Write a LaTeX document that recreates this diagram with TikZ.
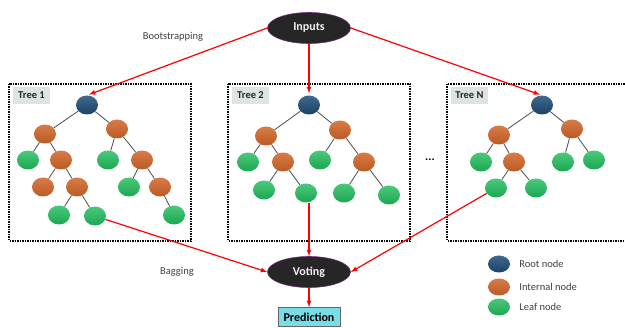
\documentclass[tikz,border=0pt]{standalone}
\usepackage{fontspec}
\setmainfont{Carlito}
\usepackage{tikz}
\usetikzlibrary{shapes, positioning}
\definecolor{rootblue}{RGB}{31, 78, 121}
\definecolor{inorange}{RGB}{208, 100, 40}
\definecolor{leafgreen}{RGB}{30, 186, 90}
\definecolor{labgray}{RGB}{222, 228, 224}
\definecolor{predcyan}{RGB}{121, 221, 230}
\definecolor{rimviolet}{RGB}{112, 48, 120}
\tikzset{
    treenode/.style = {draw=none, ellipse, minimum width=22pt, minimum height=19pt, inner sep=0pt, node distance=0pt},
    rootnode/.style = {treenode, top color=rootblue!85!white, bottom color=rootblue!85!black},
    innode/.style = {treenode, top color=inorange!85!white, bottom color=inorange!90!black},
    leafnode/.style = {treenode, top color=leafgreen!80!white, bottom color=leafgreen!90!black},
    bignode/.style = {draw=rimviolet, line width=0.6pt, ellipse, fill=black!85, minimum width=83pt,
      minimum height=31pt, inner sep=0pt, text=white!95!black, font=\fontsize{12}{14}\selectfont\bfseries},
    boxnode/.style = {draw=black!60, line width=0.8pt, rectangle, fill=predcyan, minimum width=62pt,
      minimum height=19pt, inner sep=0pt, font=\fontsize{12}{14}\selectfont\bfseries},
    textnode/.style = {draw=none, fill=none, rectangle, inner sep=0pt, text=black!75,
      font=\fontsize{10.5}{12}\selectfont},
    labnode/.style = {draw=none, fill=labgray, rectangle, minimum width=37pt, minimum height=17pt,
      inner sep=0pt, text=black!85, font=\fontsize{10.5}{12}\selectfont\bfseries},
    branch/.style = {draw=black!70, line width=0.8pt},
    connect/.style = {red, line width=1.2pt, -latex},
    treebox/.style = {draw=black, densely dotted, line width=1.5pt}
}

\begin{document}
\begin{tikzpicture}[x=1pt, y=-1pt]
    \useasboundingbox (0,0) rectangle (625,328);

    % boxes round the trees
    \draw [treebox] (9,84) rectangle (191,241);
    \draw [treebox] (228,84) rectangle (410,241);
    \draw [treebox] (447,84) rectangle (640,241);
    \node [name=lab1, labnode] at (31.5,95.5) {Tree 1};
    \node [name=lab2, labnode] at (250.5,95.5) {Tree 2};
    \node [name=labN, labnode] at (469.5,95.5) {Tree N};

    \node [name=inputs, bignode] at (309,28) {Inputs};
    \node [name=voting, bignode] at (309,272) {Voting};
    \node [name=pred, boxnode] at (309,317) {Prediction};

    % tree 1
    \node [name=r1, rootnode] at (87,105) {};
    \node [name=i1a, innode, below of = r1, xshift=-42, yshift=-29] {};
    \node [name=i1b, innode, below of = r1, xshift=30, yshift=-24] {};
    \node [name=l1a, leafnode, below of = i1a, xshift=-17, yshift=-26] {};
    \node [name=i1c, innode, below of = i1a, xshift=16, yshift=-26] {};
    \node [name=l1b, leafnode, below of = i1b, xshift=-9, yshift=-31] {};
    \node [name=i1d, innode, below of = i1b, xshift=25, yshift=-31] {};
    \node [name=i1e, innode, below of = i1c, xshift=-18, yshift=-27] {};
    \node [name=i1f, innode, below of = i1c, xshift=16, yshift=-27] {};
    \node [name=l1c, leafnode, below of = i1d, xshift=-13, yshift=-27] {};
    \node [name=i1g, innode, below of = i1d, xshift=18, yshift=-27] {};
    \node [name=l1d, leafnode, below of = i1f, xshift=-18, yshift=-28] {};
    \node [name=l1e, leafnode, below of = i1f, xshift=18, yshift=-29] {};
    \node [name=l1f, leafnode, below of = i1g, xshift=14, yshift=-28] {};
    \draw [branch] (r1) edge (i1a) edge (i1b)
        (i1a) edge (l1a) edge (i1c) (i1b) edge (l1b) edge (i1d)
        (i1c) edge (i1e) edge (i1f) (i1d) edge (l1c) edge (i1g)
        (i1f) edge (l1d) edge (l1e) (i1g) edge (l1f);

    % tree 2
    \node [name=r2, rootnode] at (309,105) {};
    \node [name=i2a, innode, below of = r2, xshift=-43, yshift=-31] {};
    \node [name=i2b, innode, below of = r2, xshift=31, yshift=-25] {};
    \node [name=l2a, leafnode, below of = i2a, xshift=-18, yshift=-26] {};
    \node [name=i2c, innode, below of = i2a, xshift=17, yshift=-26] {};
    \node [name=l2b, leafnode, below of = i2b, xshift=-20, yshift=-30] {};
    \node [name=i2d, innode, below of = i2b, xshift=24, yshift=-32] {};
    \node [name=l2c, leafnode, below of = i2c, xshift=-19, yshift=-28] {};
    \node [name=l2d, leafnode, below of = i2c, xshift=23, yshift=-31] {};
    \node [name=l2e, leafnode, below of = i2d, xshift=-20, yshift=-31] {};
    \node [name=l2f, leafnode, below of = i2d, xshift=25, yshift=-33] {};
    \draw [branch] (r2) edge (i2a) edge (i2b)
        (i2a) edge (l2a) edge (i2c) (i2b) edge (l2b) edge (i2d)
        (i2c) edge (l2c) edge (l2d) (i2d) edge (l2e) edge (l2f);

    \node [name=dots, textnode, text=black, font=\fontsize{12}{14}\selectfont\bfseries] at (430,160) {...};

    % tree N
    \node [name=rN, rootnode] at (542,105) {};
    \node [name=iNa, innode, below of = rN, xshift=-43, yshift=-30] {};
    \node [name=iNb, innode, below of = rN, xshift=30, yshift=-24] {};
    \node [name=lNa, leafnode, below of = iNa, xshift=-18, yshift=-27] {};
    \node [name=iNc, innode, below of = iNa, xshift=15, yshift=-27] {};
    \node [name=lNb, leafnode, below of = iNb, xshift=-9, yshift=-33] {};
    \node [name=lNc, leafnode, below of = iNb, xshift=22, yshift=-31] {};
    \node [name=lNd, leafnode, below of = iNc, xshift=-18, yshift=-26] {};
    \node [name=lNe, leafnode, below of = iNc, xshift=22, yshift=-26] {};
    \draw [branch] (rN) edge (iNa) edge (iNb)
        (iNa) edge (lNa) edge (iNc) (iNb) edge (lNb) edge (lNc)
        (iNc) edge (lNd) edge (lNe);

    % bootstrapping and bagging
    \draw [connect, shorten >=2pt] (inputs.west) -- (r1.north);
    \draw [connect, shorten >=2pt] (inputs.south) -- (r2.north);
    \draw [connect, shorten >=2pt] (inputs.east) -- (rN.north);
    \draw [connect] (l1e) -- (voting.west);
    \draw [connect] (l2d.south -| voting.north) -- (voting.north);
    \draw [connect] (lNd) -- (voting.east);
    \draw [connect] (voting.south) -- (pred.north);

    \node [name=boot, textnode] at (173,37) {Bootstrapping};
    \node [name=bag, textnode] at (177,272) {Bagging};

    % legend
    \node [name=leg1, rootnode, minimum height=17pt] at (499,264) {};
    \node [name=leg2, innode, minimum height=17pt] at (499,287) {};
    \node [name=leg3, leafnode, minimum height=17pt] at (499,307) {};
    \node [name=legtxt1, textnode, right=9pt of leg1] {Root node};
    \node [name=legtxt2, textnode, right=9pt of leg2] {Internal node};
    \node [name=legtxt3, textnode, right=9pt of leg3] {Leaf node};
\end{tikzpicture}
\end{document}
